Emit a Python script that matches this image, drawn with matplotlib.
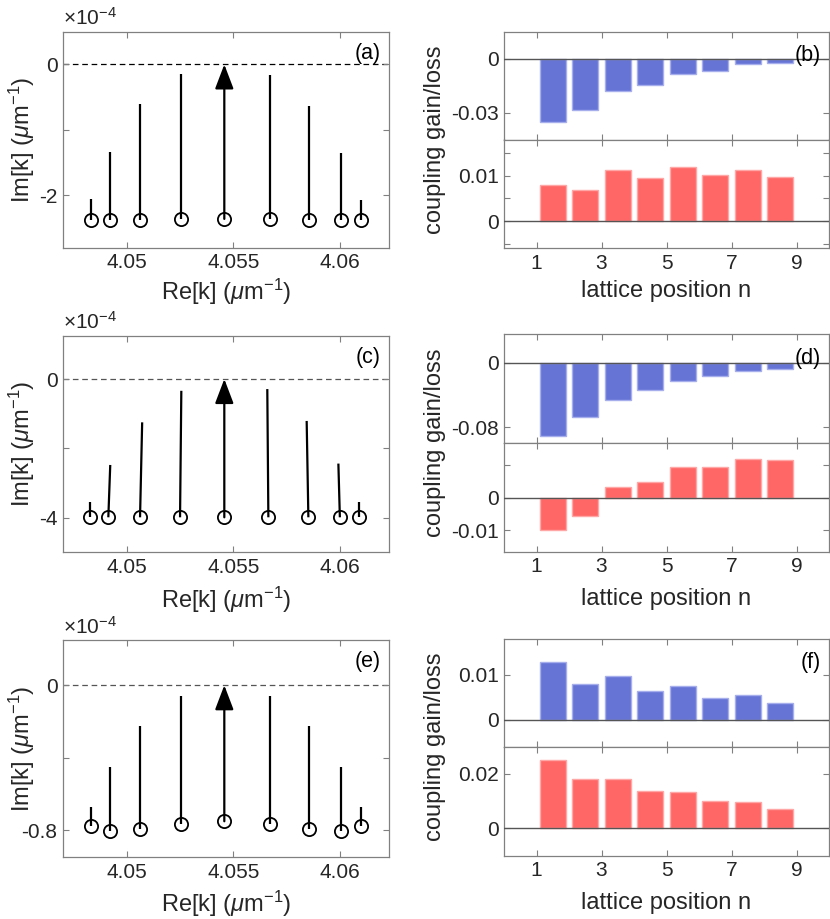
import matplotlib
matplotlib.use('Agg')
import matplotlib.pyplot as plt

plt.rcParams['font.family'] = ['Liberation Sans', 'DejaVu Sans']
plt.rcParams['mathtext.fontset'] = 'custom'
plt.rcParams['mathtext.rm'] = 'Liberation Sans'
plt.rcParams['mathtext.it'] = 'Liberation Sans:italic'
plt.rcParams['axes.unicode_minus'] = False

# ---------------- data ----------------
# Im[k] values in units of 1e-4 (as shown on the axes)
re_a_start = [4.04831, 4.04921, 4.05064, 4.05254, 4.05458, 4.05671, 4.05857, 4.06007, 4.06101]
re_a_end = [4.04831, 4.04921, 4.05064, 4.05254, 4.05458, 4.05671, 4.05857, 4.06007, 4.06101]
im_a_start = [-2.37, -2.37, -2.37, -2.36, -2.36, -2.36, -2.37, -2.37, -2.37]
im_a_end = [-2.06, -1.34, -0.61, -0.15, 0.0, -0.16, -0.64, -1.36, -2.07]

re_c_start = [4.04825, 4.04913, 4.05062, 4.05250, 4.05458, 4.05665, 4.05853, 4.06001, 4.06093]
re_c_end = [4.04825, 4.04922, 4.05072, 4.05256, 4.05458, 4.05660, 4.05845, 4.05994, 4.06093]
im_c_start = [-3.99, -3.99, -3.99, -3.99, -3.99, -3.99, -3.99, -3.99, -3.99]
im_c_end = [-3.55, -2.48, -1.25, -0.34, 0.0, -0.29, -1.21, -2.44, -3.55]

re_e_start = [4.04831, 4.04921, 4.05064, 4.05254, 4.05458, 4.05671, 4.05857, 4.06007, 4.06101]
re_e_end = [4.04831, 4.04921, 4.05064, 4.05254, 4.05458, 4.05671, 4.05857, 4.06007, 4.06101]
im_e_start = [-0.778, -0.806, -0.795, -0.765, -0.751, -0.765, -0.795, -0.806, -0.778]
im_e_end = [-0.671, -0.453, -0.223, -0.059, 0.0, -0.059, -0.223, -0.453, -0.671]

bond_pos = [1.5, 2.5, 3.5, 4.5, 5.5, 6.5, 7.5, 8.5]
b_blue = [-0.0350, -0.0286, -0.0179, -0.0146, -0.0083, -0.0066, -0.0028, -0.0022]
b_red = [0.0079, 0.0068, 0.0112, 0.0096, 0.0120, 0.0102, 0.0113, 0.0097]
d_blue = [-0.0907, -0.0677, -0.0460, -0.0345, -0.0226, -0.0169, -0.0103, -0.0079]
d_red = [-0.0099, -0.0055, 0.0032, 0.0047, 0.0094, 0.0094, 0.0118, 0.0113]
f_blue = [0.0129, 0.0080, 0.0098, 0.0063, 0.0074, 0.0049, 0.0056, 0.0037]
f_red = [0.0250, 0.0183, 0.0183, 0.0136, 0.0135, 0.0100, 0.0097, 0.0073]

re_ticks = [4.05, 4.055, 4.06]
re_ticklabels = ['4.05', '4.055', '4.06']
n_ticks = [1, 3, 5, 7, 9]
n_ticklabels = ['1', '3', '5', '7', '9']

# ---------------- figure ----------------
W, H = 830, 919
fig = plt.figure(figsize=(W / 100, H / 100), dpi=100)

def rect(x0, x1, y0, y1):
    return [x0 / W, 1 - y1 / H, (x1 - x0) / W, (y1 - y0) / H]

SP = '#808080'
TXT = '#262626'
FS = 15
LFS = 17

def style(ax):
    for s in ax.spines.values():
        s.set_color(SP)
        s.set_linewidth(0.9)
    ax.tick_params(direction='in', top=True, right=True, length=4, width=0.8,
                   color=SP, labelcolor=TXT, labelsize=FS, pad=4)

left_rows = [(31.7, 247.7), (335.7, 552.3), (640.0, 857.3)]
left_x = (63.0, 388.6)
left_sets = [
    (re_a_start, re_a_end, im_a_start, im_a_end, (-2.8, 0.5), [-2, -1, 0], ['-2', '', '0'], '(a)', 'k'),
    (re_c_start, re_c_end, im_c_start, im_c_end, (-5.0, 1.25), [-4, -2, 0], ['-4', '', '0'], '(c)', '#555555'),
    (re_e_start, re_e_end, im_e_start, im_e_end, (-0.95, 0.25), [-0.8, -0.4, 0], ['-0.8', '', '0'], '(e)', '#555555'),
]
xl_base_left = [299.5, 608.0, 911.5]

for (y0, y1), (rs, rend, ims, ime, ylim, yt, ytl, lab, dcol), xb in zip(left_rows, left_sets, xl_base_left):
    ax = fig.add_axes(rect(left_x[0], left_x[1], y0, y1))
    style(ax)
    ax.set_xlim(4.047, 4.0623)
    ax.set_ylim(*ylim)
    ax.axhline(0, color=dcol, lw=0.9, ls=(0, (4.5, 3)), zorder=1)
    for i in range(len(rs)):
        if i == 4:
            ax.annotate('', xy=(rend[i], ime[i]), xytext=(rs[i], ims[i]),
                        arrowprops=dict(arrowstyle='-|>,head_length=1.0,head_width=0.38',
                                        mutation_scale=15, lw=1.6, color='k',
                                        shrinkA=0, shrinkB=0), zorder=3)
        else:
            ax.plot([rs[i], rend[i]], [ims[i], ime[i]], color='k', lw=1.6,
                    solid_capstyle='butt', zorder=3)
    ax.plot(rs, ims, 'o', ms=9.5, mfc='none', mec='k', mew=1.3, zorder=4)
    ax.set_xticks(re_ticks)
    ax.set_xticklabels(re_ticklabels)
    ax.set_yticks(yt)
    ax.set_yticklabels(ytl)
    ax.text(0.975, 0.9, lab, transform=ax.transAxes, ha='right', va='center',
            fontsize=FS + 0.5, color='k')
    fig.text(left_x[0] / W, 1 - (y0 - 6.7) / H, r'$\times$10$^{-4}$', fontsize=FS,
             color=TXT, ha='left', va='baseline')
    fig.text(21.5 / W, 1 - ((y0 + y1) / 2) / H, r'Im[k] ($\mu$m$^{-1}$)',
             rotation=90, ha='center', va='center', fontsize=LFS, color=TXT)
    fig.text((left_x[0] + left_x[1]) / 2 / W, 1 - xb / H, r'Re[k] ($\mu$m$^{-1}$)',
             ha='center', va='baseline', fontsize=LFS, color=TXT)

BLUE = '#6674D6'
BLUE_E = '#A6AEEB'
RED = '#FF6666'
RED_E = '#FFA6A6'

right_x = (504.0, 829.0)
right_rows = [(32.0, 139.5, 248.3), (334.3, 443.3, 551.7), (638.7, 746.7, 855.7)]
right_sets = [
    (b_blue, (-0.045, 0.015), [-0.03, 0], ['-0.03', '0'],
     b_red, (-0.006, 0.018), [-0.005, 0, 0.005, 0.01, 0.015], ['', '0', '', '0.01', ''], '(b)'),
    (d_blue, (-0.1, 0.035), [-0.08, 0], ['-0.08', '0'],
     d_red, (-0.0165, 0.0165), [-0.01, 0, 0.01], ['-0.01', '0', ''], '(d)'),
    (f_blue, (-0.006, 0.018), [0, 0.01], ['0', '0.01'],
     f_red, (-0.01, 0.03), [0, 0.02], ['0', '0.02'], '(f)'),
]
xl_base_right = [296.5, 605.0, 908.5]

for (ya, yb, yc), (bv, bl, bt, btl, rv, rl, rt, rtl, lab), xb in zip(right_rows, right_sets, xl_base_right):
    axt = fig.add_axes(rect(right_x[0], right_x[1], ya, yb))
    axb = fig.add_axes(rect(right_x[0], right_x[1], yb, yc))
    for ax, vals, ylim, yt, ytl, c, ec in [(axt, bv, bl, bt, btl, BLUE, BLUE_E),
                                         (axb, rv, rl, rt, rtl, RED, RED_E)]:
        style(ax)
        ax.tick_params(axis='y', pad=3.5)
        ax.bar(bond_pos, vals, width=0.8, color=c, edgecolor=ec, linewidth=1.0, zorder=2)
        ax.axhline(0, color='#555555', lw=1.0, zorder=3)
        ax.set_xlim(0, 10)
        ax.set_ylim(*ylim)
        ax.set_yticks(yt)
        ax.set_yticklabels(ytl)
        ax.set_xticks(n_ticks)
    axt.set_xticklabels([])
    axb.set_xticklabels(n_ticklabels)
    axt.text(0.975, 0.78, lab, transform=axt.transAxes, ha='right', va='center',
             fontsize=FS + 0.5, color='k')
    fig.text(435 / W, 1 - ((ya + yc) / 2) / H, 'coupling gain/loss', rotation=90,
             ha='center', va='center', fontsize=LFS, color=TXT)
    fig.text((right_x[0] + right_x[1]) / 2 / W, 1 - xb / H, 'lattice position n',
             ha='center', va='baseline', fontsize=LFS, color=TXT)

fig.savefig('out.png', dpi=100)
